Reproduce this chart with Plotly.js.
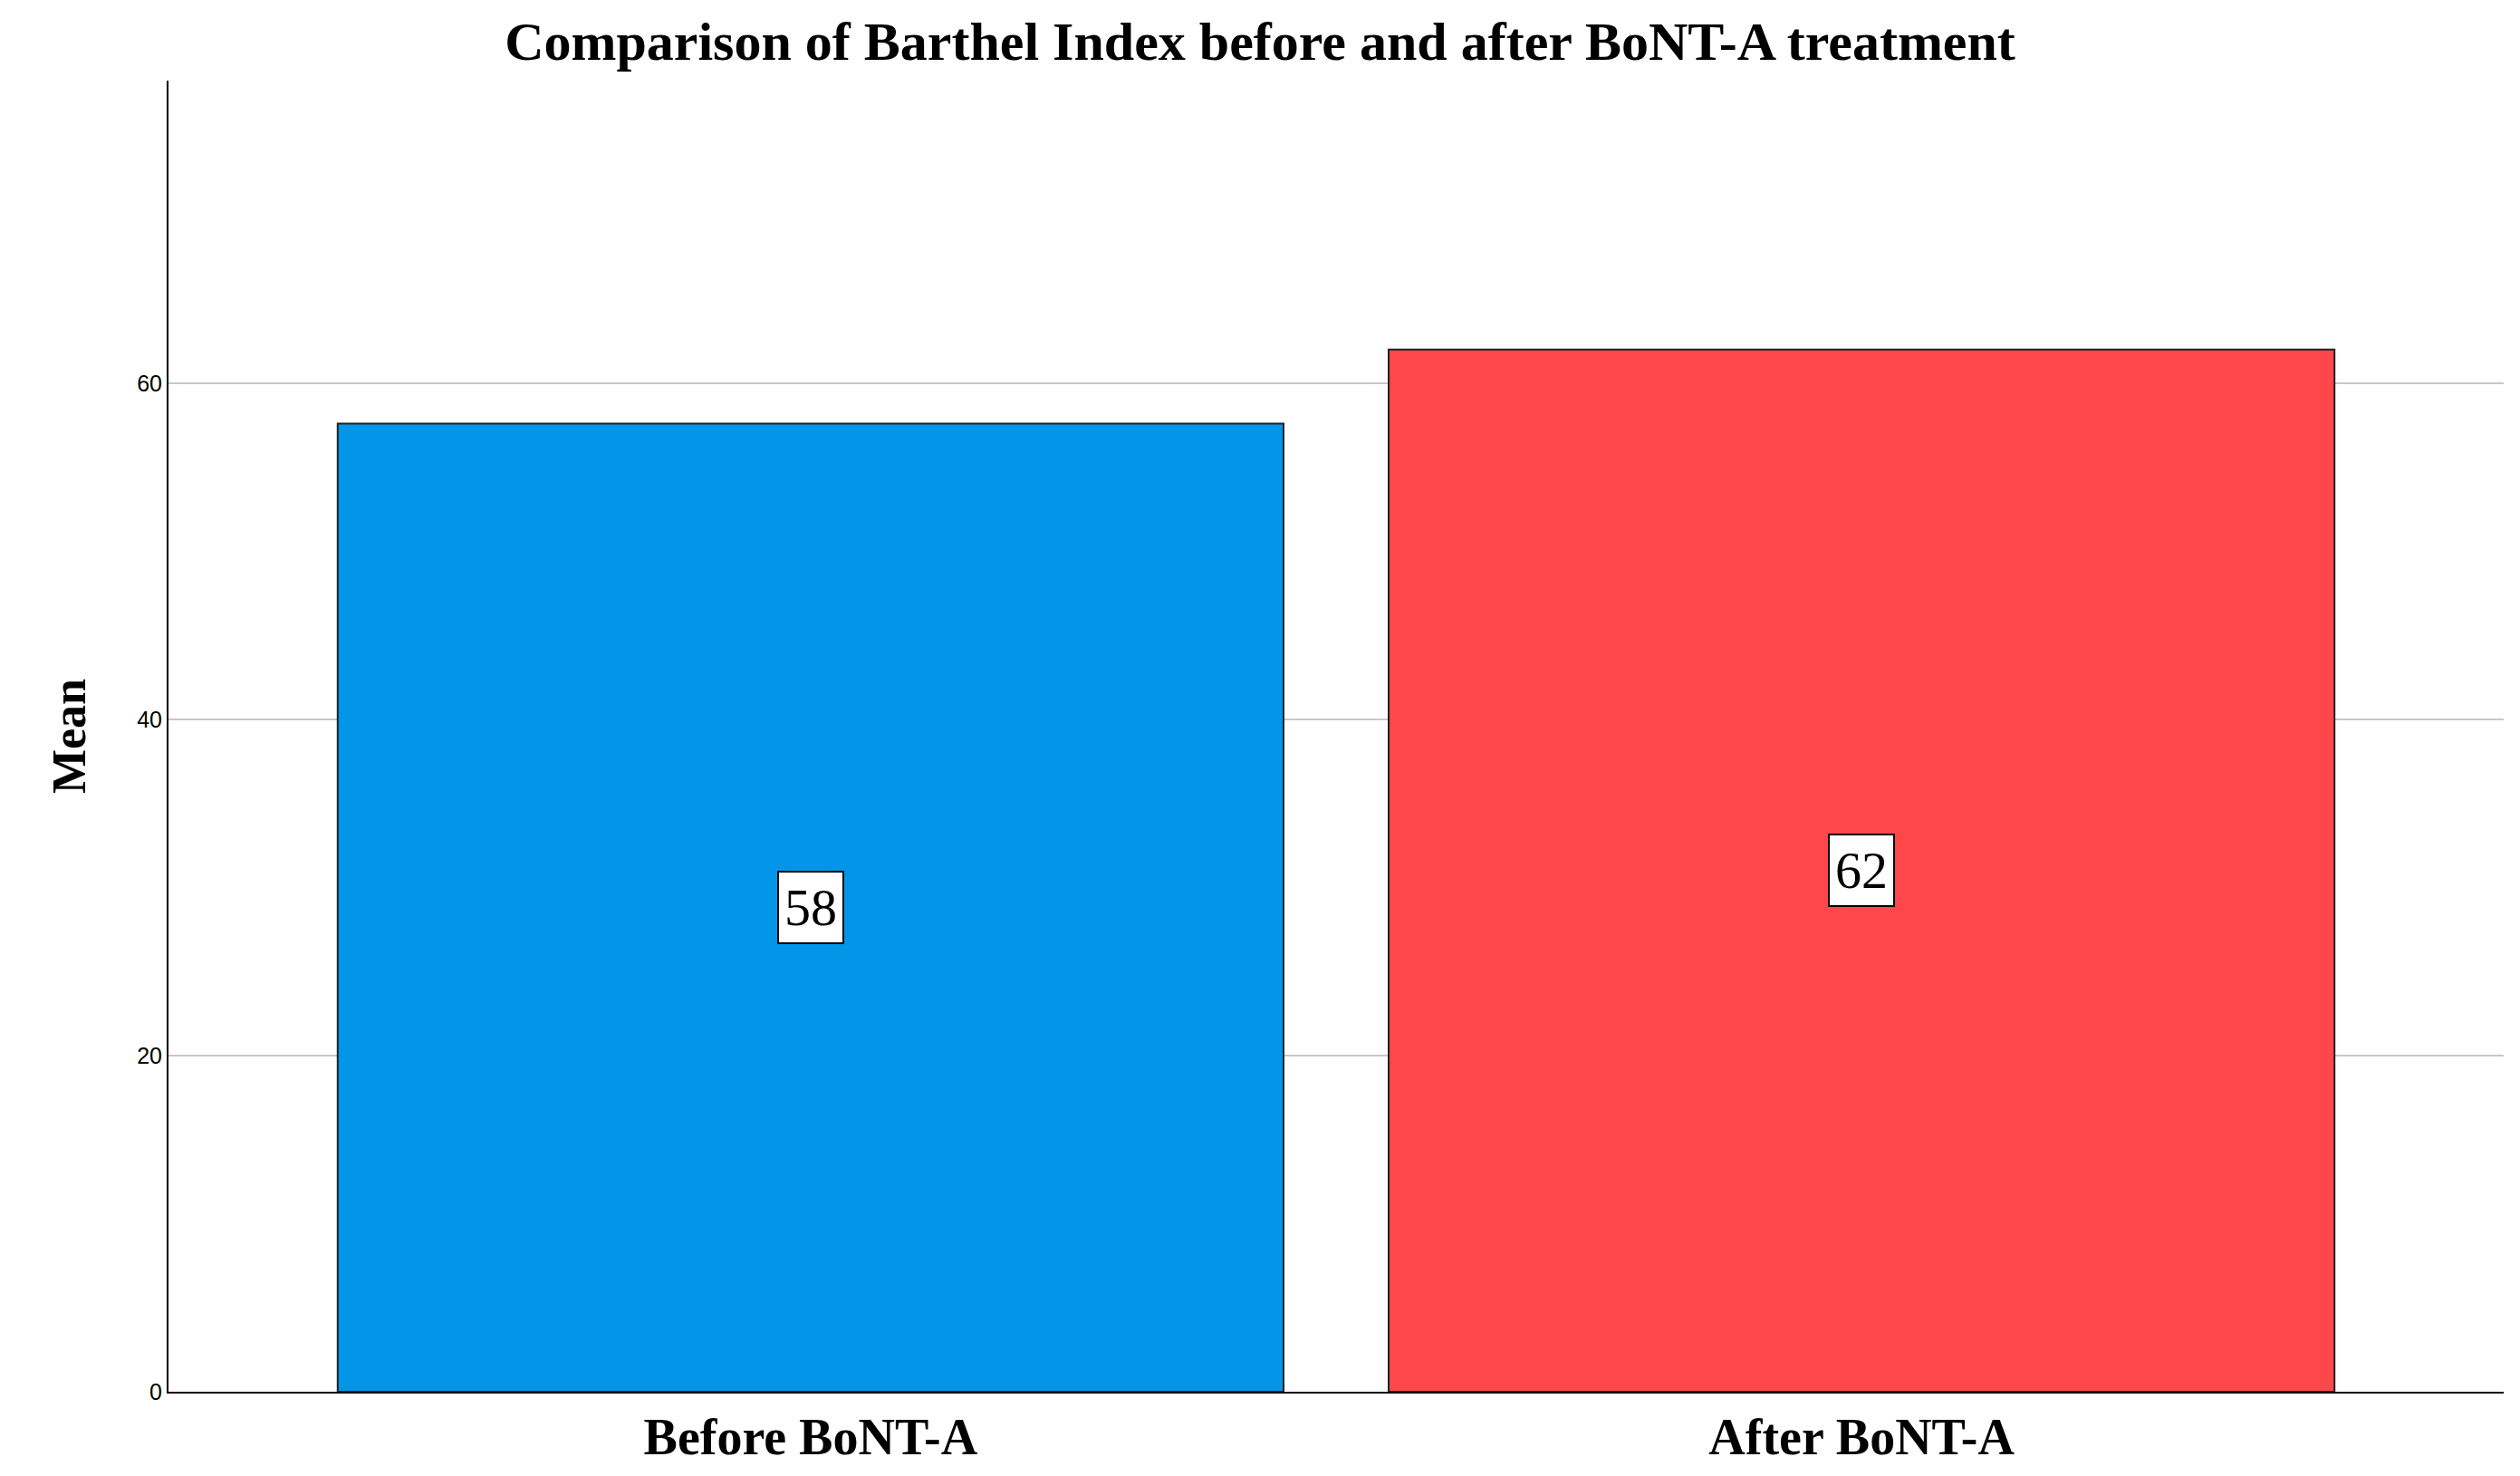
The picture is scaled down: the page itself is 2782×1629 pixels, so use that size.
<!DOCTYPE html>
<html>
<head>
<meta charset="utf-8">
<script src="https://cdn.plot.ly/plotly-3.0.1.min.js"></script>
<style>html,body{margin:0;padding:0;background:#fff}</style>
</head>
<body>
<div id="chart" style="width:2782px;height:1629px"></div>
<script>
var categories = ['Before BoNT-A', 'After BoNT-A'];
var means = [57.6, 62.0];
var labels = ['58', '62'];
var colors = ['#0396e8', '#fe474b'];

var serif = 'Liberation Serif, DejaVu Serif, serif';

var trace = {
  type: 'bar',
  x: [0, 1],
  y: means,
  width: 0.9,
  marker: { color: colors, line: { color: '#222', width: 2 } },
  hoverinfo: 'skip'
};

var annotations = means.map(function(m, i) {
  return {
    x: i, y: m / 2, xref: 'x', yref: 'y',
    text: labels[i], showarrow: false,
    font: { family: serif, size: 58, color: '#000' },
    bgcolor: '#fff', bordercolor: '#000', borderwidth: 2, borderpad: 6
  };
});

var layout = {
  title: { text: '<b>Comparison of Barthel Index before and after BoNT-A treatment</b>',
           font: { family: serif, size: 60, color: '#000' }, x: 0.5, y: 0.985, yanchor: 'top' },
  xaxis: {
    range: [-0.611, 1.611], tickvals: [0, 1],
    ticktext: categories.map(function(c) { return '<b>' + c + '</b>'; }),
    tickfont: { family: serif, size: 56, color: '#000' },
    showgrid: false, zeroline: false, showline: true, linecolor: '#000', linewidth: 2,
    ticks: '', fixedrange: true
  },
  yaxis: {
    range: [0, 78], tickvals: [0, 20, 40, 60],
    tickfont: { family: 'Liberation Sans, Arial, sans-serif', size: 25, color: '#000' },
    showgrid: true, gridcolor: '#c8c8c8', gridwidth: 2, zeroline: false,
    showline: true, linecolor: '#000', linewidth: 2, ticks: '',
    title: { text: '<b>Mean</b>', font: { family: serif, size: 52, color: '#000' }, standoff: 40 }
  },
  annotations: annotations,
  showlegend: false,
  margin: { l: 186, r: 18, t: 89, b: 93 },
  paper_bgcolor: '#fff',
  plot_bgcolor: '#fff'
};

Plotly.newPlot('chart', [trace], layout, { displayModeBar: false });
</script>
</body>
</html>
